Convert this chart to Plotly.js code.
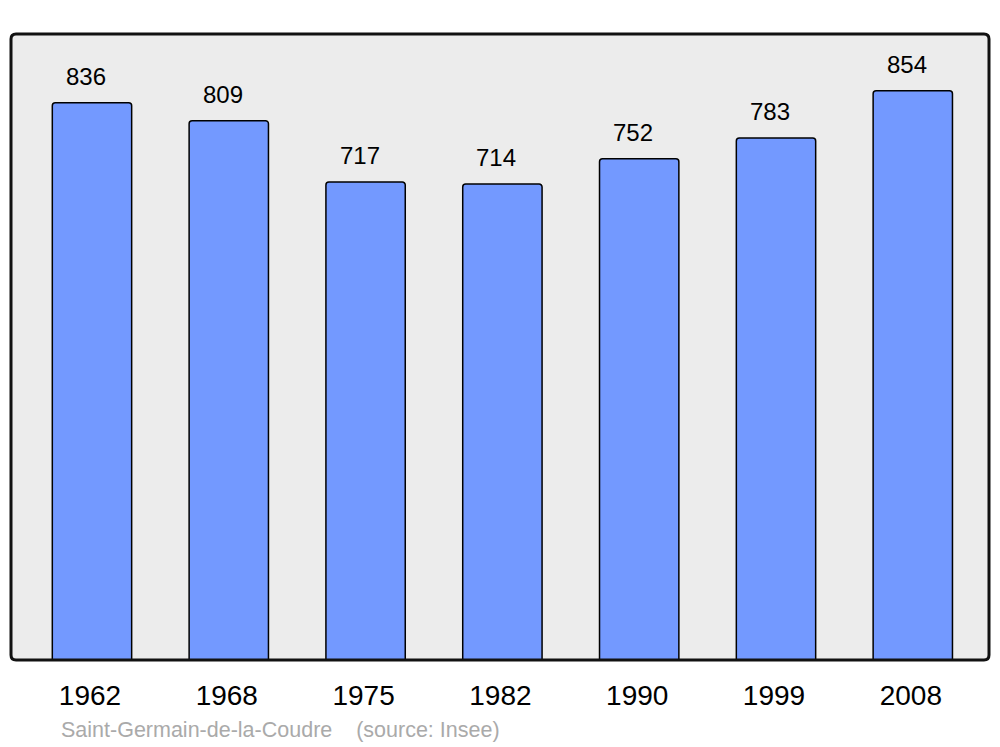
<!DOCTYPE html>
<html>
<head>
<meta charset="utf-8">
<script src="https://cdn.plot.ly/plotly-3.0.1.min.js"></script>
<style>html,body{margin:0;padding:0;background:#fff;}#chart{width:1000px;height:747px;}</style>
</head>
<body>
<div id="chart"></div>
<script>
var years = ["1962", "1968", "1975", "1982", "1990", "1999", "2008"];
var population = [836, 809, 717, 714, 752, 783, 854];
var commune = "Saint-Germain-de-la-Coudre";
var source = "(source: Insee)";

var FONT = "Liberation Sans, Arial, sans-serif";

var trace = {
  type: "bar",
  x: years,
  y: population,
  width: 0.58,
  marker: {color: "#7399ff", line: {color: "#000000", width: 1.5}, cornerradius: 3},
  hoverinfo: "none"
};

var annotations = years.map(function (yr, i) {
  return {
    x: i, y: population[i], xref: "x", yref: "y",
    text: String(population[i]), showarrow: false,
    xanchor: "center", yanchor: "bottom", yshift: 11, xshift: -6,
    font: {family: FONT, size: 24, color: "#000"}
  };
});
annotations.push({
  xref: "paper", yref: "paper", x: 0.0511, y: -0.1118,
  xanchor: "left", yanchor: "middle", showarrow: false, xshift: -2,
  text: commune + "\u00a0\u00a0\u00a0\u00a0" + source,
  font: {family: FONT, size: 21.5, color: "#aaaaaa"}
});

var rx = 5 / 978, ry = 5 / 626;
var framePath = "M " + rx + ",0 L " + (1 - rx) + ",0 Q 1,0 1," + ry +
  " L 1," + (1 - ry) + " Q 1,1 " + (1 - rx) + ",1 L " + rx + ",1 Q 0,1 0," + (1 - ry) +
  " L 0," + ry + " Q 0,0 " + rx + ",0 Z";

var layout = {
  width: 1000, height: 747,
  margin: {l: 11, r: 11, t: 34, b: 87, pad: 0},
  paper_bgcolor: "#ffffff",
  plot_bgcolor: "#ececec",
  showlegend: false,
  xaxis: {
    type: "category",
    range: [-0.592, 6.557],
    showgrid: false, zeroline: false, showline: false,
    ticks: "", ticklabelstandoff: 16, ticklabelshift: -2,
    tickfont: {family: FONT, size: 28, color: "#000"},
    fixedrange: true
  },
  yaxis: {
    range: [0, 939],
    showgrid: false, zeroline: false, showline: false,
    showticklabels: false, ticks: "",
    fixedrange: true
  },
  shapes: [{
    type: "path", xref: "paper", yref: "paper",
    path: framePath,
    line: {color: "#111111", width: 3},
    layer: "above"
  }],
  annotations: annotations
};

Plotly.newPlot("chart", [trace], layout, {displayModeBar: false, staticPlot: true});
</script>
</body>
</html>
